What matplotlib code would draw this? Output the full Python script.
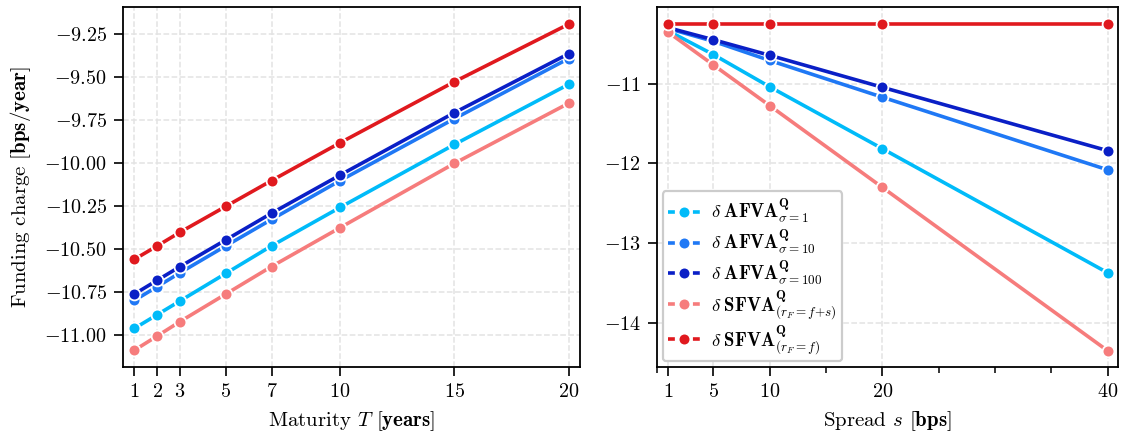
import matplotlib
matplotlib.use('Agg')
import matplotlib.pyplot as plt
from matplotlib.ticker import FixedLocator

plt.rcParams['font.family'] = 'serif'
plt.rcParams['font.serif'] = ['cmr10']
plt.rcParams['mathtext.fontset'] = 'cm'
plt.rcParams['axes.formatter.use_mathtext'] = True
plt.rcParams['axes.unicode_minus'] = True

# left panel: maturity
maturity = [1, 2, 3, 5, 7, 10, 15, 20]
afva_1_T = [-10.96, -10.88, -10.80, -10.64, -10.48, -10.256, -9.89, -9.54]
afva_10_T = [-10.797, -10.717, -10.636, -10.48, -10.326, -10.10, -9.74, -9.39]
afva_100_T = [-10.76, -10.68, -10.60, -10.445, -10.29, -10.068, -9.705, -9.362]
sfva_fs_T = [-11.087, -11.004, -10.92, -10.76, -10.60, -10.374, -10.00, -9.65]
sfva_f_T = [-10.558, -10.48, -10.40, -10.25, -10.10, -9.88, -9.525, -9.19]

# right panel: spread
spread = [1, 5, 10, 20, 40]
afva_1_s = [-10.34, -10.636, -11.04, -11.815, -13.37]
afva_10_s = [-10.31, -10.47, -10.71, -11.17, -12.08]
afva_100_s = [-10.30, -10.45, -10.645, -11.046, -11.84]
sfva_fs_s = [-10.357, -10.766, -11.276, -12.30, -14.347]
sfva_f_s = [-10.252, -10.252, -10.252, -10.252, -10.252]

labels = [
    r'$\delta\;\mathbf{AFVA}^{\mathbf{Q}}_{\sigma\mathbf{=1}}$',
    r'$\delta\;\mathbf{AFVA}^{\mathbf{Q}}_{\sigma\mathbf{=10}}$',
    r'$\delta\;\mathbf{AFVA}^{\mathbf{Q}}_{\sigma\mathbf{=100}}$',
    r'$\delta\;\mathbf{SFVA}^{\mathbf{Q}}_{\mathbf{(}r_F\mathbf{=}f\mathbf{+}s\mathbf{)}}$',
    r'$\delta\;\mathbf{SFVA}^{\mathbf{Q}}_{\mathbf{(}r_F\mathbf{=}f\mathbf{)}}$',
]
colors = ['#00bbf9', '#1f78f5', '#0a1fc6', '#f67c7c', '#e0191e']

fig = plt.figure(figsize=(11.22, 4.37), dpi=100)
ax1 = fig.add_axes([0.1096, 0.160, 0.4074, 0.824])
ax2 = fig.add_axes([0.5856, 0.160, 0.4108, 0.824])

style = dict(marker='o', markersize=8.5, markeredgecolor='white',
             markeredgewidth=1.3, linewidth=2.6)

for ys, c, lab in zip([afva_1_T, afva_10_T, afva_100_T, sfva_fs_T, sfva_f_T], colors, labels):
    ax1.plot(maturity, ys, color=c, label=lab, **style)

for ys, c, lab in zip([afva_1_s, afva_10_s, afva_100_s, sfva_fs_s, sfva_f_s], colors, labels):
    ax2.plot(spread, ys, color=c, label=lab, **style)

for ax in (ax1, ax2):
    ax.grid(True, linestyle='--', color='#e3e3e3', linewidth=1.1)
    ax.set_axisbelow(True)
    ax.tick_params(axis='both', which='major', labelsize=14.5, length=6.5, width=1.2,
                   direction='out', pad=5)
    for sp in ax.spines.values():
        sp.set_linewidth(1.3)

ax1.set_xlim(0.5, 20.5)
ax1.set_ylim(-11.185, -9.09)
ax1.set_xticks(maturity)
ax1.set_yticks([-11.0, -10.75, -10.5, -10.25, -10.0, -9.75, -9.5, -9.25])
ax1.set_xlabel(r'Maturity $T$ $\mathbf{[years]}$', fontsize=15, labelpad=6)
ax1.set_ylabel(r'Funding charge $\mathbf{[bps/year]}$', fontsize=15, labelpad=8)

ax2.set_xlim(0.0, 40.9)
ax2.set_ylim(-14.55, -10.04)
ax2.set_xticks(spread)
ax2.xaxis.set_minor_locator(FixedLocator([0, 15, 25, 30, 35]))
ax2.tick_params(axis='x', which='minor', length=4, width=1.1)
ax2.set_yticks([-14, -13, -12, -11])
ax2.set_xlabel(r'Spread $s$ $\mathbf{[bps]}$', fontsize=15, labelpad=6)

leg = ax2.legend(loc='lower left', fontsize=13.5, frameon=True, fancybox=True,
                 edgecolor='#cccccc', framealpha=1.0, handlelength=1.7,
                 handletextpad=0.6, borderaxespad=0.3, labelspacing=0.1,
                 borderpad=0.3)
leg.get_frame().set_linewidth(1.6)
for ln in leg.get_lines():
    ln.set_linestyle((0, (1.9, 5.0)))

fig.savefig('out.png', dpi=100)
